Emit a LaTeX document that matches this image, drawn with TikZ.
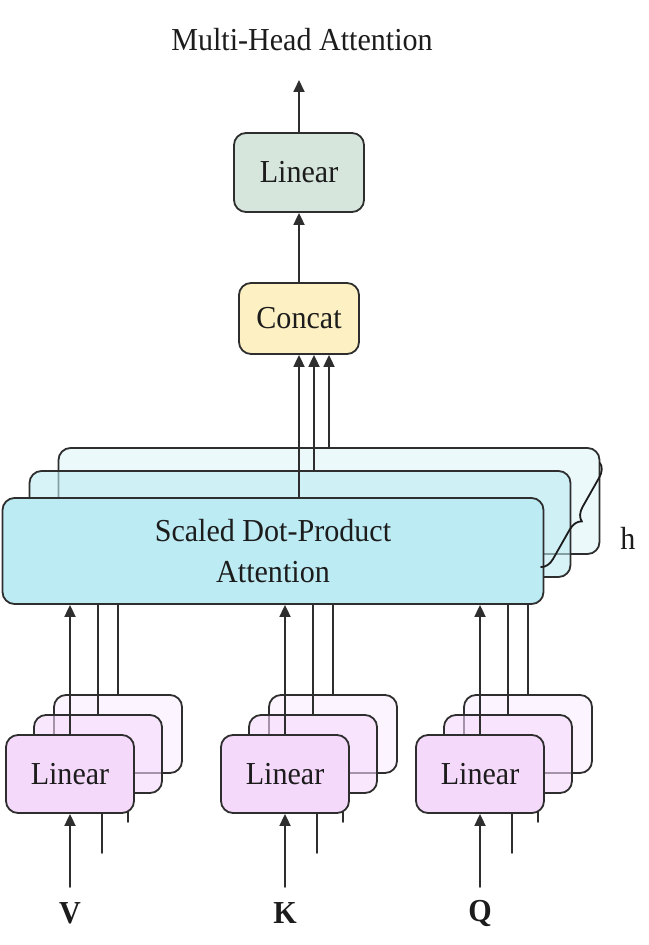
\documentclass[tikz,border=0pt]{standalone}
\usepackage{fontspec}
\setmainfont{Liberation Serif}[FakeStretch=0.94]
\usetikzlibrary{arrows.meta, decorations.pathreplacing}
\definecolor{linegray}{HTML}{2E2E2E}
\definecolor{inkblack}{HTML}{1C1C1C}
\definecolor{attcol}{HTML}{BDEBF3}
\definecolor{lincol}{HTML}{F5D9FB}
\definecolor{outcol}{HTML}{D6E6DD}
\definecolor{catcol}{HTML}{FDF0C2}

\begin{document}
\begin{tikzpicture}[x=0.5pt, y=-0.5pt, >={Triangle[length=6pt, width=5.5pt]}, line cap=round,
    box/.style={draw=linegray, line width=0.9pt, rounded corners=6pt, inner sep=0pt,
      text=inkblack, font=\fontsize{16}{20.5}\selectfont},
    attbox/.style={box, fill=attcol, minimum width=270.5pt, minimum height=53pt, align=center},
    linbox/.style={box, fill=lincol, minimum width=64pt, minimum height=39pt},
    lab/.style={text=inkblack, font=\fontsize{16}{20}\selectfont},
    conn/.style={draw=linegray, line width=0.9pt}]

% Cornice
\useasboundingbox (0,0) rectangle (648,945);

% Titolo e uscita
\node[lab] (title) at (302,40) {Multi-Head Attention};
\coordinate (outtip) at (299,80);
\node[box, fill=outcol, minimum width=65pt, minimum height=39.5pt] (outlin) at (299,172.5) {Linear};
\node[box, fill=catcol, minimum width=60pt, minimum height=35.5pt] (concat) at (299,318.5) {Concat};
\draw[conn,->] (outlin.north) -- (outtip);
\draw[conn,->] (concat.north) -- (outlin.south);

% Teste di attenzione
\node[attbox, fill opacity=0.3] (att3) at (329,501) {};
\node[attbox, fill opacity=0.6] (att2) at (300,524) {};
\node[attbox] (att1) at (273,551) {Scaled Dot-Product\\Attention};
\foreach \k/\dx in {1/0, 2/7.5, 3/15} {
  \coordinate (cin\k) at ([xshift=\dx pt]concat.south);
  \draw[conn,->] (cin\k |- att\k.north) -- (cin\k);
}

% Graffa h
\coordinate (brtop) at (600,463);
\coordinate (brbot) at (541,567);
\draw[line width=0.9pt, inkblack, decorate, decoration={brace, amplitude=6.5pt}] (brtop) -- (brbot);
\node[lab] (heads) at (628,538) {h};

% Proiezioni lineari V, K, Q
\foreach \n/\x/\l in {v/70/V, k/285/K, q/480/Q} {
  \node[linbox, fill opacity=0.3] (\n3) at (\x+48,734) {};
  \draw[conn] ([xshift=5pt]\n3.south) -- ++(0,48);
  \node[linbox, fill opacity=0.6] (\n2) at (\x+28,754) {};
  \draw[conn] ([xshift=2pt]\n2.south) -- ++(0,59);
  \node[linbox] (\n1) at (\x,774) {Linear};
  \node[lab, font=\bfseries\fontsize{16}{20}\selectfont] (in\n) at (\x,913) {\l};
  \coordinate (start\n) at (\x,887);
  \draw[conn,->] (start\n) -- (\n1.south);
  \draw[conn,->] (\n1.north) -- (\n1.north |- att1.south);
  \draw[conn] (\n2.north) -- (\n2.north |- att1.south);
  \draw[conn] (\n3.north) -- (\n3.north |- att1.south);
}

\end{tikzpicture}
\end{document}
